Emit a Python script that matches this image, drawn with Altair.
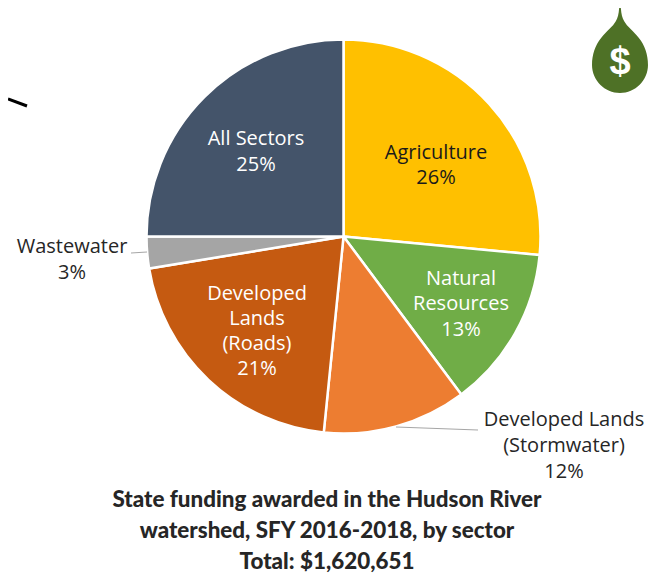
import altair as alt
import pandas as pd

sectors = ["Agriculture", "Natural Resources", "Developed Lands (Stormwater)",
           "Developed Lands (Roads)", "Wastewater", "All Sectors"]
shares = [26.5, 13.3, 11.8, 20.8, 2.6, 25.0]
colors = ["#FFC000", "#70AD47", "#ED7D31", "#C55A11", "#A5A5A5", "#44546A"]

df = pd.DataFrame({"sector": sectors, "share": shares, "idx": range(len(sectors))})

LABEL_FONT = "Open Sans"
TITLE_FONT = "Lato"

pie = alt.Chart(df).mark_arc(outerRadius=197, stroke="white", strokeWidth=2.5).encode(
    theta=alt.Theta("share:Q", stack=True),
    order=alt.Order("idx:Q"),
    color=alt.Color("sector:N", sort=sectors, legend=None,
                    scale=alt.Scale(domain=sectors, range=colors)),
    x=alt.value(335.5), y=alt.value(228.5),
)


def text(s, px, py, color="#262626", size=20, font=LABEL_FONT, weight="normal"):
    return alt.Chart().mark_text(text=s, color=color, fontSize=size, font=font,
                                 fontWeight=weight, align="center", baseline="middle").encode(
        x=alt.value(px - 8), y=alt.value(py - 7))


def rule(x1, y1, x2, y2, color="#A6A6A6", width=1):
    return alt.Chart().mark_rule(color=color, strokeWidth=width).encode(
        x=alt.value(x1 - 8), x2=alt.value(x2 - 8), y=alt.value(y1 - 8), y2=alt.value(y2 - 8))


drop_path = ("M-0.012,-1 L0.012,-1 C0.02,-0.8 0.04,-0.68 0.09,-0.6 C0.16,-0.47 0.3,-0.38 0.42,-0.22 "
             "C0.55,-0.06 0.622,0.15 0.622,0.378 "
             "C0.622,0.72 0.34,1 0,1 C-0.34,1 -0.622,0.72 -0.622,0.378 "
             "C-0.622,0.15 -0.55,-0.06 -0.42,-0.22 C-0.3,-0.38 -0.16,-0.47 -0.09,-0.6 "
             "C-0.04,-0.68 -0.02,-0.8 -0.012,-1 Z")
drop = alt.Chart().mark_point(shape=drop_path, size=8100, filled=True, color="#4E7126",
                              opacity=1, strokeWidth=0).encode(
    x=alt.value(612), y=alt.value(40))

layers = [pie,
          rule(131, 253, 147, 252), rule(396, 427, 478, 430),
          rule(8, 99, 27, 106, color="#000000", width=3),
          drop,
          text("$", 620, 62, color="white", size=38, font="Liberation Sans", weight="bold"),
          text("All Sectors", 256, 138, color="white"), text("25%", 256, 164, color="white"),
          text("Agriculture", 436, 152, color="#1a1a1a"), text("26%", 436, 177, color="#1a1a1a"),
          text("Natural", 461, 278, color="white"), text("Resources", 461, 303, color="white"),
          text("13%", 461, 329, color="white"),
          text("Developed", 257, 293, color="white"), text("Lands", 257, 318, color="white"),
          text("(Roads)", 257, 343, color="white"), text("21%", 257, 368, color="white"),
          text("Wastewater", 72, 246), text("3%", 72, 272),
          text("Developed Lands", 564, 419), text("(Stormwater)", 564, 445), text("12%", 564, 471),
          text("State funding awarded in the Hudson River", 327, 499, size=22.4, font=TITLE_FONT, weight=900),
          text("watershed, SFY 2016-2018, by sector", 327, 530, size=22.4, font=TITLE_FONT, weight=900),
          text("Total: $1,620,651", 327, 561, size=22.4, font=TITLE_FONT, weight=900),
          ]

chart = alt.layer(*layers).properties(
    width=645, height=568, padding=0, autosize=alt.AutoSizeParams(type="none")
).configure_view(stroke=None)

chart.save("out.html", embed_options={"renderer": "svg", "actions": False})
